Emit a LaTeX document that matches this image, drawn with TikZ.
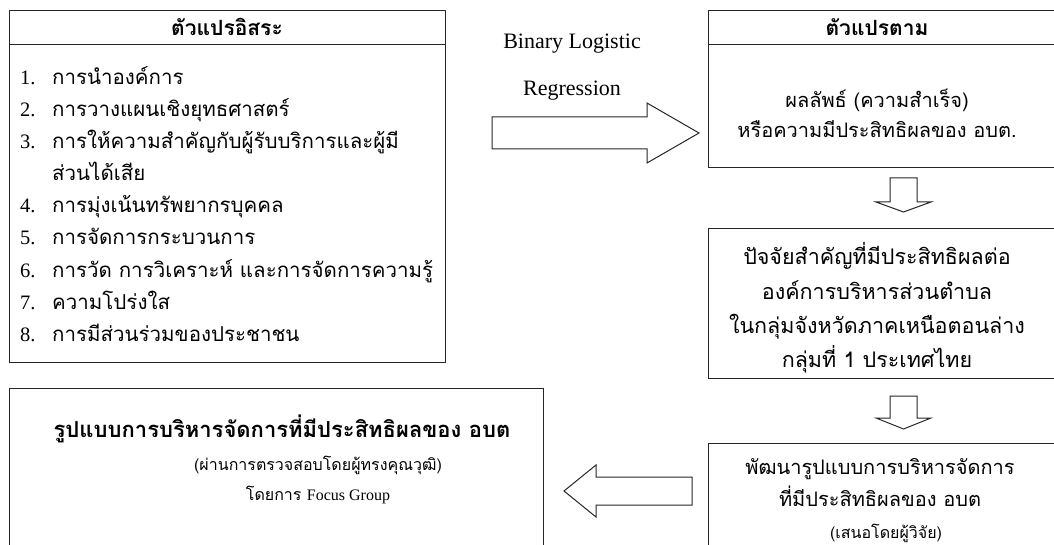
\documentclass[tikz,border=0pt]{standalone}
\usepackage{fontspec}
\setmainfont{Liberation Serif}
\newfontfamily\thai[Script=Thai]{Loma}
\tikzset{
  frame/.style={draw=black!85, line width=1pt},
  blockarrow/.style={draw=black!85, line width=1pt, fill=white, line join=miter},
  ttl/.style={font=\thai\bfseries\fontsize{21}{25}\selectfont, anchor=base, inner sep=0pt},
  bigttl/.style={font=\thai\bfseries\fontsize{22}{26}\selectfont, anchor=base, inner sep=0pt},
  itm/.style={font=\thai\fontsize{20.5}{24}\selectfont, anchor=base west, inner sep=0pt},
  body/.style={font=\thai\fontsize{20}{24}\selectfont, anchor=base, inner sep=0pt},
  midbody/.style={font=\thai\fontsize{21.5}{25}\selectfont, anchor=base, inner sep=0pt},
  small/.style={font=\thai\fontsize{16}{19}\selectfont, anchor=base, inner sep=0pt},
  lat/.style={font=\fontsize{22}{26}\selectfont, anchor=base, inner sep=0pt}
}
\newcommand{\itnum}[1]{\makebox[32pt][l]{\rmfamily #1}}
\begin{document}
\begin{tikzpicture}[x=1pt, y=-1pt]
\useasboundingbox (0,0) rectangle (1054,545);
\clip (0,0) rectangle (1054,545);

% ---- left top box: independent variables
\node[frame, minimum width=436pt, minimum height=351pt, inner sep=0pt] (leftbox) at (227,186.5) {};
\coordinate (ldivL) at (9,45);
\coordinate (ldivR) at (445,45);
\draw[frame] (ldivL) -- (ldivR);
\node[ttl] (lt) at (227,36) {ตัวแปรอิสระ};
\node[itm] (i1) at (20,85) {\itnum{1.}การนำองค์การ};
\node[itm] (i2) at (20,117) {\itnum{2.}การวางแผนเชิงยุทธศาสตร์};
\node[itm] (i3) at (20,149) {\itnum{3.}การให้ความสำคัญกับผู้รับบริการและผู้มี};
\node[itm] (i3b) at (52,181) {ส่วนได้เสีย};
\node[itm] (i4) at (20,213) {\itnum{4.}การมุ่งเน้นทรัพยากรบุคคล};
\node[itm] (i5) at (20,245) {\itnum{5.}การจัดการกระบวนการ};
\node[itm] (i6) at (20,277) {\itnum{6.}การวัด การวิเคราะห์ และการจัดการความรู้};
\node[itm] (i7) at (20,309) {\itnum{7.}ความโปร่งใส};
\node[itm] (i8) at (20,341) {\itnum{8.}การมีส่วนร่วมของประชาชน};

% ---- method label and right arrow
\node[lat] (bl) at (572,49) {Binary Logistic};
\node[lat] (rg) at (572,96) {Regression};
\draw[blockarrow] (492,117) -- (647,117) -- (647,103) -- (699,133) -- (647,163) -- (647,149) -- (492,149) -- cycle;

% ---- top right box: dependent variable
\node[frame, minimum width=352pt, minimum height=157pt, inner sep=0pt] (trbox) at (884,89.5) {};
\coordinate (rdivL) at (708,45);
\coordinate (rdivR) at (1060,45);
\draw[frame] (rdivL) -- (rdivR);
\node[ttl] (rt) at (877,36) {ตัวแปรตาม};
\node[body] (r1) at (877,108) {ผลลัพธ์ (ความสำเร็จ)};
\node[body] (r2) at (877,138) {หรือความมีประสิทธิผลของ อบต.};

% ---- down arrow 1
\draw[blockarrow] (890,178) -- (917,178) -- (917,202) -- (931,202) -- (903.5,212) -- (876,202) -- (890,202) -- cycle;

% ---- middle right box
\node[frame, minimum width=352pt, minimum height=149pt, inner sep=0pt] (mbox) at (884,303.5) {};
\node[midbody] (m1) at (877,265) {ปัจจัยสำคัญที่มีประสิทธิผลต่อ};
\node[midbody] (m2) at (877,299) {องค์การบริหารส่วนตำบล};
\node[midbody] (m3) at (877,333) {ในกลุ่มจังหวัดภาคเหนือตอนล่าง};
\node[midbody] (m4) at (877,367) {กลุ่มที่ 1 ประเทศไทย};

% ---- down arrow 2
\draw[blockarrow] (890,396) -- (917,396) -- (917,418) -- (931,418) -- (903.5,429) -- (876,418) -- (890,418) -- cycle;

% ---- bottom right box
\node[frame, minimum width=352pt, minimum height=130pt, inner sep=0pt] (brbox) at (884,508) {};
\node[body] (b1) at (880,474) {พัฒนารูปแบบการบริหารจัดการ};
\node[body] (b2) at (880,506) {ที่มีประสิทธิผลของ อบต};
\node[small] (b3) at (886,538) {(เสนอโดยผู้วิจัย)};

% ---- left arrow
\draw[blockarrow] (692,477) -- (596,477) -- (596,465) -- (564,491) -- (596,517) -- (596,505) -- (692,505) -- cycle;

% ---- bottom left box
\node[frame, minimum width=534pt, minimum height=174pt, inner sep=0pt] (blbox) at (276,475) {};
\node[bigttl] (l1) at (282,437) {รูปแบบการบริหารจัดการที่มีประสิทธิผลของ อบต};
\node[small] (l2) at (318,470) {(ผ่านการตรวจสอบโดยผู้ทรงคุณวุฒิ)};
\node[small] (l3) at (318,500) {โดยการ {\rmfamily Focus Group}};
\end{tikzpicture}
\end{document}
